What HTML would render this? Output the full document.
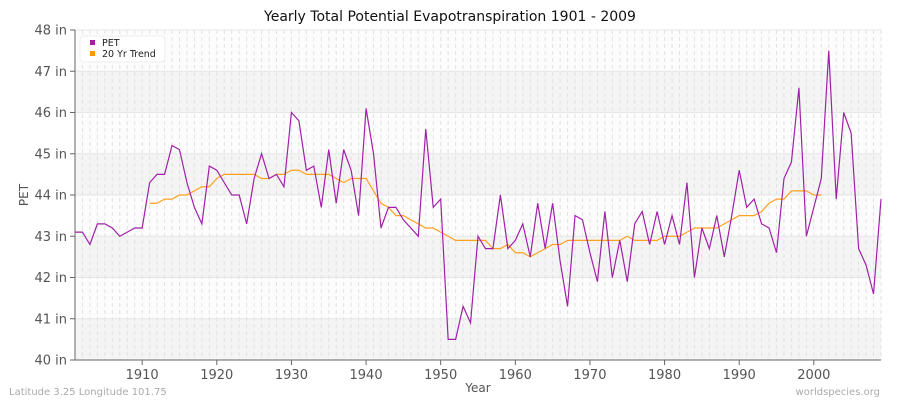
<!DOCTYPE html>
<html><head><meta charset="utf-8"><style>
body{margin:0;background:#fff;}
svg text{font-family:"DejaVu Sans","Liberation Sans",sans-serif;}
</style></head><body>
<svg id="c" width="900" height="400" xmlns="http://www.w3.org/2000/svg"></svg>
<script>
const pet=[43.1,43.1,42.8,43.3,43.3,43.2,43.0,43.1,43.2,43.2,44.3,44.5,44.5,45.2,45.1,44.3,43.7,43.3,44.7,44.6,44.3,44.0,44.0,43.3,44.4,45.0,44.4,44.5,44.2,46.0,45.8,44.6,44.7,43.7,45.1,43.8,45.1,44.6,43.5,46.1,45.0,43.2,43.7,43.7,43.4,43.2,43.0,45.6,43.7,43.9,40.5,40.5,41.3,40.9,43.0,42.7,42.7,44.0,42.7,42.9,43.3,42.5,43.8,42.7,43.8,42.4,41.3,43.5,43.4,42.6,41.9,43.6,42.0,42.9,41.9,43.3,43.6,42.8,43.6,42.8,43.5,42.8,44.3,42.0,43.2,42.7,43.5,42.5,43.5,44.6,43.7,43.9,43.3,43.2,42.6,44.4,44.8,46.6,43.0,43.7,44.4,47.5,43.9,46.0,45.5,42.7,42.3,41.6,43.9];
const tr=[43.8,43.8,43.9,43.9,44.0,44.0,44.1,44.2,44.2,44.4,44.5,44.5,44.5,44.5,44.5,44.4,44.4,44.5,44.5,44.6,44.6,44.5,44.5,44.5,44.5,44.4,44.3,44.4,44.4,44.4,44.1,43.8,43.7,43.5,43.5,43.4,43.3,43.2,43.2,43.1,43.0,42.9,42.9,42.9,42.9,42.9,42.7,42.7,42.8,42.6,42.6,42.5,42.6,42.7,42.8,42.8,42.9,42.9,42.9,42.9,42.9,42.9,42.9,42.9,43.0,42.9,42.9,42.9,42.9,43.0,43.0,43.0,43.1,43.2,43.2,43.2,43.2,43.3,43.4,43.5,43.5,43.5,43.6,43.8,43.9,43.9,44.1,44.1,44.1,44.0,44.0];
const X=y=>75+(y-1901)*806/108, Y=v=>360-(v-40)*41.25;
let s='';
for(let v=40;v<48;v++){s+=`<rect x="75" y="${Y(v+1)}" width="806" height="41.25" fill="${v%2==0?'#f4f4f4':'#fcfcfc'}"/>`;}
for(let y=1901;y<=2009;y++){s+=`<line x1="${X(y)}" y1="30" x2="${X(y)}" y2="360" stroke="#e2e2e2" stroke-dasharray="4,3" stroke-width="1"/>`;}
for(let v=41;v<=48;v++){s+=`<line x1="75" y1="${Y(v)}" x2="881" y2="${Y(v)}" stroke="#e6e6e6"/>`;}
s+=`<line x1="75" y1="30" x2="75" y2="360" stroke="#666"/><line x1="75" y1="360" x2="881" y2="360" stroke="#666"/>`;
for(let v=40;v<=48;v++){s+=`<line x1="70" y1="${Y(v)}" x2="75" y2="${Y(v)}" stroke="#666"/><text x="67" y="${Y(v)+4.5}" font-size="13" fill="#555" text-anchor="end">${v} in</text>`;}
for(let y=1910;y<=2000;y+=10){s+=`<line x1="${X(y)}" y1="360" x2="${X(y)}" y2="365" stroke="#666"/><text x="${X(y)}" y="379" font-size="13" fill="#555" text-anchor="middle">${y}</text>`;}
s+=`<polyline fill="none" stroke="#ffa020" stroke-width="1.2" points="${tr.map((v,i)=>X(1911+i)+','+Y(v)).join(' ')}"/>`;
s+=`<polyline fill="none" stroke="#a020a8" stroke-width="1.2" points="${pet.map((v,i)=>X(1901+i)+','+Y(v)).join(' ')}"/>`;
s+=`<rect x="80" y="36" width="85" height="26" rx="4" fill="#fff" stroke="#eee"/>
<rect x="90" y="40" width="5" height="5" fill="#a020a8"/><text x="102" y="46" font-size="9.5" fill="#222">PET</text>
<rect x="90" y="51" width="5" height="5" fill="#ff9900"/><text x="102" y="57" font-size="9.5" fill="#222">20 Yr Trend</text>
<text x="450" y="21" font-size="14" fill="#111" text-anchor="middle">Yearly Total Potential Evapotranspiration 1901 - 2009</text>
<text x="478" y="392" font-size="12" fill="#555" text-anchor="middle">Year</text>
<text x="28" y="195" font-size="12" fill="#555" text-anchor="middle" transform="rotate(-90 28 195)">PET</text>
<text x="9" y="395" font-size="10" fill="#aaa">Latitude 3.25 Longitude 101.75</text>
<text x="880" y="395" font-size="10" fill="#aaa" text-anchor="end">worldspecies.org</text>`;
document.getElementById('c').innerHTML=s;
</script>
</body></html>
